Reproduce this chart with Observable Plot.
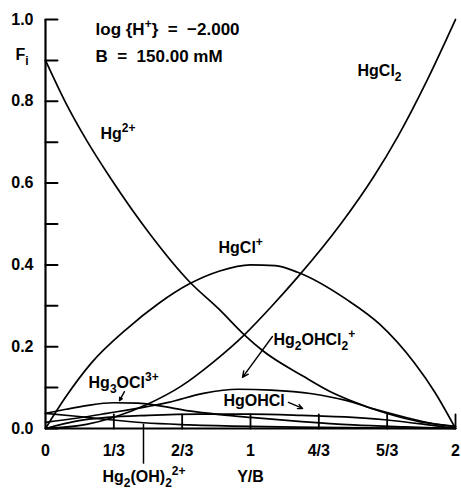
<!DOCTYPE html>
<html>
<head>
<meta charset="utf-8">
<script src="https://cdn.jsdelivr.net/npm/d3@7"></script>
<script src="https://cdn.jsdelivr.net/npm/@observablehq/plot@0.6"></script>
<style>
  html, body { margin: 0; padding: 0; background: #fff; }
  svg text { white-space: pre; }
</style>
</head>
<body>
<div id="chart"></div>
<script>
// ---- Data ----
const xHg = [0, 0.1, 0.2, 0.32, 0.51, 0.70, 0.85, 0.97, 1.06, 1.26, 1.39, 1.5, 1.67, 1.83, 2];
const fHg = [0.90, 0.795, 0.705, 0.61, 0.475, 0.36, 0.29, 0.229, 0.19, 0.127, 0.09, 0.066, 0.036, 0.016, 0.005];

const xHgCl = [0, 0.1, 0.22, 0.4, 0.55, 0.7, 0.85, 1.0, 1.12, 1.23, 1.47, 1.63, 1.8, 1.9, 2];
const fHgCl = [0, 0.078, 0.158, 0.245, 0.305, 0.353, 0.385, 0.400, 0.398, 0.382, 0.315, 0.255, 0.160, 0.088, 0];

const xHgCl2 = [0, 0.2, 0.33, 0.5, 0.66, 0.82, 0.97, 1.1, 1.23, 1.44, 1.6, 1.72, 1.86, 2];
const fHgCl2 = [0, 0.01, 0.027, 0.06, 0.103, 0.163, 0.229, 0.297, 0.37, 0.50, 0.615, 0.715, 0.85, 1.0];

const xHg3OCl = [0, 0.1, 0.2, 0.33, 0.45, 0.55, 0.7, 0.85, 1.0, 1.25, 1.5, 1.75, 2];
const fHg3OCl = [0.037, 0.047, 0.056, 0.063, 0.062, 0.056, 0.043, 0.034, 0.027, 0.017, 0.009, 0.004, 0];

const xHg2OHCl2 = [0, 0.15, 0.3, 0.5, 0.6, 0.77, 0.94, 1.1, 1.3, 1.47, 1.6, 1.75, 1.9, 2];
const fHg2OHCl2 = [0.015, 0.025, 0.037, 0.054, 0.064, 0.086, 0.096, 0.094, 0.085, 0.068, 0.048, 0.028, 0.011, 0.004];

const xHgOHCl = [0, 0.15, 0.3, 0.5, 0.75, 1.0, 1.25, 1.5, 1.7, 1.85, 2];
const fHgOHCl = [0, 0.018, 0.027, 0.032, 0.035, 0.035, 0.032, 0.027, 0.019, 0.01, 0];

const xHg2OH2 = [0, 0.15, 0.3, 0.48, 0.7, 1.0, 1.33, 1.67, 2];
const fHg2OH2 = [0.037, 0.03, 0.022, 0.014, 0.009, 0.005, 0.003, 0.001, 0];

// ticks
const yTickValues = [0, 0.1, 0.2, 0.3, 0.4, 0.5, 0.6, 0.7, 0.8, 0.9, 1.0];
const yLabelValues = [0, 0.2, 0.4, 0.6, 0.8, 1.0];
const xTickValues = [1/3, 2/3, 1, 4/3, 5/3, 2];
const xLabelValues = [0, 1/3, 2/3, 1, 4/3, 5/3, 2];
const xLabelTexts = ["0", "1/3", "2/3", "1", "4/3", "5/3", "2"];

// annotations (text with _{sub} and ^{sup} markup)
const headerTexts = ["log {H^{+}}  =  −2.000", "B  =  150.00 mM"];
const headerX = [0.244, 0.244];
const headerY = [0.961, 0.897];

const labelTexts = ["HgCl_{2}", "Hg^{2+}", "HgCl^{+}",
  "Hg_{2}OHCl_{2}^{+}", "HgOHCl", "Hg_{3}OCl^{3+}", "Hg_{2}(OH)_{2}^{2+}", "F_{i}"];
const labelX = [1.522, 0.268, 0.844, 1.112, 0.868, 0.21, 0.278, -0.146];
const labelY = [0.863, 0.709, 0.430, 0.203, 0.056, 0.098, -0.132, 0.90];

const axisTitle = ["Y/B"];
const axisTitleX = [1.0];
const axisTitleY = [-0.132];

// pointer arrows / leader line
const arrowX1 = [1.107, 0.385, 1.185];
const arrowY1 = [0.225, 0.090, 0.064];
const arrowX2 = [0.961, 0.361, 1.254];
const arrowY2 = [0.125, 0.068, 0.049];
const leaderX = [0.478];
const leaderY1 = [0.012];
const leaderY2 = [-0.086];

// ---- build tidy tables ----
const series = [
  ["Hg2+", xHg, fHg], ["HgCl+", xHgCl, fHgCl], ["HgCl2", xHgCl2, fHgCl2],
  ["Hg3OCl3+", xHg3OCl, fHg3OCl], ["Hg2OHCl2+", xHg2OHCl2, fHg2OHCl2],
  ["HgOHCl", xHgOHCl, fHgOHCl], ["Hg2(OH)2 2+", xHg2OH2, fHg2OH2]
];
const rows = series.flatMap(([name, xs, fs]) => xs.map((x, i) => ({name, x, f: fs[i]})));
const headers = headerTexts.map((t, i) => ({t, x: headerX[i], y: headerY[i]}));
const labels = labelTexts.map((t, i) => ({t, x: labelX[i], y: labelY[i]}));
const titles = axisTitle.map((t, i) => ({t, x: axisTitleX[i], y: axisTitleY[i]}));
const arrows = arrowX1.map((x1, i) => ({x1, y1: arrowY1[i], x2: arrowX2[i], y2: arrowY2[i]}));
const leaders = leaderX.map((x, i) => ({x, y1: leaderY1[i], y2: leaderY2[i]}));

const tickShape = { draw(context, l) { context.moveTo(0, 0); context.lineTo(0, -l); } };

const chart = Plot.plot({
  width: 461,
  height: 490,
  marginLeft: 45,
  marginRight: 6,
  marginTop: 19,
  marginBottom: 62,
  x: {domain: [0, 2]},
  y: {domain: [0, 1]},
  style: {fontFamily: "'Liberation Sans', Arial, sans-serif", fontSize: "16px", fontWeight: "bold", color: "#000", background: "#fff", overflow: "visible"},
  marks: [
    Plot.axisY({ticks: yLabelValues, tickFormat: d => d.toFixed(1), tickSize: 0, tickPadding: 12, label: null, fontSize: 16}),
    Plot.axisX({ticks: xLabelValues, tickFormat: (d, i) => xLabelTexts[i], tickSize: 0, tickPadding: 16, label: null, fontSize: 16}),
    Plot.vector(yTickValues, {x: 0, y: d => d, rotate: 90, length: 12, anchor: "start", shape: tickShape, strokeWidth: 2}),
    Plot.vector(xTickValues, {x: d => d, y: 0, rotate: 0, length: 14, anchor: "start", shape: tickShape, strokeWidth: 1.8}),
    Plot.ruleX([0], {strokeWidth: 2.2}),
    Plot.ruleY([0], {strokeWidth: 2.2}),
    Plot.line(rows, {x: "x", y: "f", z: "name", curve: "monotone-x", strokeWidth: 1.7, stroke: "#000"}),
    Plot.arrow(arrows, {x1: "x1", y1: "y1", x2: "x2", y2: "y2", strokeWidth: 1.4, headLength: 7, headAngle: 50}),
    Plot.link(leaders, {x1: "x", x2: "x", y1: "y1", y2: "y2", strokeWidth: 1.5}),
    Plot.text(headers, {x: "x", y: "y", text: "t", textAnchor: "start", lineAnchor: "bottom", fontSize: 17}),
    Plot.text(labels, {x: "x", y: "y", text: "t", textAnchor: "start", lineAnchor: "bottom", fontSize: 16}),
    Plot.text(titles, {x: "x", y: "y", text: "t", textAnchor: "middle", lineAnchor: "bottom", fontSize: 16})
  ]
});

// rich text: _{sub} and ^{sup}
const NS = "http://www.w3.org/2000/svg";
for (const el of chart.querySelectorAll("text")) {
  const s = el.textContent;
  if (!/[_^]\{/.test(s)) continue;
  while (el.firstChild) el.removeChild(el.firstChild);
  const re = /([_^])\{([^}]*)\}|([^_^]+|[_^])/g;
  let cur = 0, m;
  while ((m = re.exec(s))) {
    const t = document.createElementNS(NS, "tspan");
    let target = 0;
    if (m[1]) {
      target = m[1] === "_" ? 5 : -7;
      t.setAttribute("font-size", "12");
      t.textContent = m[2];
    } else {
      t.textContent = m[3];
    }
    t.setAttribute("dy", String(target - cur));
    cur = target;
    el.appendChild(t);
  }
}

document.getElementById("chart").appendChild(chart);
</script>
</body>
</html>
